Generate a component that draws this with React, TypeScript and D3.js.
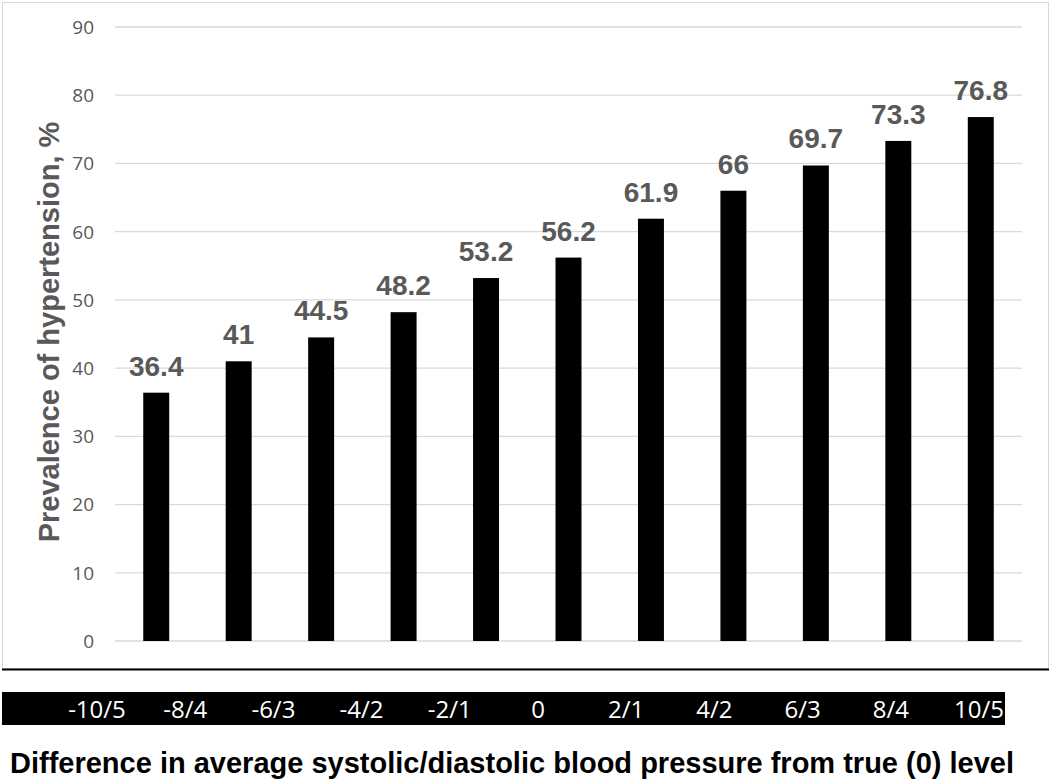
import { useEffect, useRef } from 'react';
import * as d3 from 'd3';

const categories = ['-10/5', '-8/4', '-6/3', '-4/2', '-2/1', '0', '2/1', '4/2', '6/3', '8/4', '10/5'];
const prevalence = [36.4, 41, 44.5, 48.2, 53.2, 56.2, 61.9, 66, 69.7, 73.3, 76.8];
const yTicks = [0, 10, 20, 30, 40, 50, 60, 70, 80, 90];

const W = 1050;
const H = 781;

export default function App() {
  const svgRef = useRef<SVGSVGElement>(null);

  useEffect(() => {
    if (!svgRef.current) return;
    const svg = d3.select(svgRef.current);
    svg.selectAll('*').remove();

    const x = d3.scaleBand<string>()
      .domain(categories)
      .range([115, 1022])
      .paddingInner(0.685)
      .paddingOuter(0.3425);

    const y = d3.scaleLinear().domain([0, 90]).range([641, 27]);

    // chart frame
    svg.append('rect')
      .attr('x', 2.5).attr('y', 2.5)
      .attr('width', 1046).attr('height', 666)
      .attr('fill', '#fff')
      .attr('stroke', '#d9d9d9')
      .attr('stroke-width', 1);

    svg.append('line')
      .attr('x1', 2).attr('x2', 1049)
      .attr('y1', 669.5).attr('y2', 669.5)
      .attr('stroke', '#000')
      .attr('stroke-width', 2);

    // gridlines
    svg.append('g')
      .selectAll('line')
      .data(yTicks)
      .join('line')
      .attr('x1', 115).attr('x2', 1022)
      .attr('y1', d => y(d)).attr('y2', d => y(d))
      .attr('stroke', '#d9d9d9')
      .attr('stroke-width', 1.3);

    // y tick labels
    svg.append('g')
      .selectAll('text')
      .data(yTicks)
      .join('text')
      .attr('x', 94)
      .attr('y', d => y(d))
      .attr('dy', '0.36em')
      .attr('text-anchor', 'end')
      .attr('fill', '#595959')
      .attr('font-family', '"Open Sans", sans-serif')
      .attr('font-size', 19)
      .text(d => d);

    // bars
    svg.append('g')
      .selectAll('rect')
      .data(prevalence)
      .join('rect')
      .attr('x', (_, i) => x(categories[i])!)
      .attr('y', d => y(d))
      .attr('width', x.bandwidth())
      .attr('height', d => y(0) - y(d))
      .attr('fill', '#000');

    // value labels
    svg.append('g')
      .selectAll('text')
      .data(prevalence)
      .join('text')
      .attr('x', (_, i) => x(categories[i])! + x.bandwidth() / 2)
      .attr('y', d => y(d) - 17)
      .attr('text-anchor', 'middle')
      .attr('fill', '#595959')
      .attr('font-family', '"Liberation Sans", Arial, sans-serif')
      .attr('font-weight', 'bold')
      .attr('font-size', 28)
      .text(d => d);

    // y axis title
    svg.append('text')
      .attr('transform', 'translate(59,332) rotate(-90)')
      .attr('text-anchor', 'middle')
      .attr('fill', '#595959')
      .attr('font-family', '"Liberation Sans", Arial, sans-serif')
      .attr('font-weight', 'bold')
      .attr('font-size', 29)
      .text('Prevalence of hypertension, %');

    // black category band
    svg.append('rect')
      .attr('x', 2).attr('y', 692)
      .attr('width', 1003).attr('height', 33)
      .attr('fill', '#000');

    const xl = d3.scalePoint<string>().domain(categories).range([97, 979]);
    svg.append('g')
      .selectAll('text')
      .data(categories)
      .join('text')
      .attr('x', d => xl(d)!)
      .attr('y', 718)
      .attr('text-anchor', 'middle')
      .attr('fill', '#fff')
      .attr('font-family', '"Open Sans", sans-serif')
      .attr('font-size', 24)
      .text(d => d);

    // x axis title
    svg.append('text')
      .attr('x', 10)
      .attr('y', 773)
      .attr('fill', '#000')
      .attr('font-family', '"Liberation Sans", Arial, sans-serif')
      .attr('font-weight', 'bold')
      .attr('font-size', 29)
      .text('Difference in average systolic/diastolic blood pressure from true (0) level');
  }, []);

  return (
    <svg
      ref={svgRef}
      width={W}
      height={H}
      style={{ position: 'absolute', left: 0, top: 0, background: '#fff' }}
    />
  );
}
